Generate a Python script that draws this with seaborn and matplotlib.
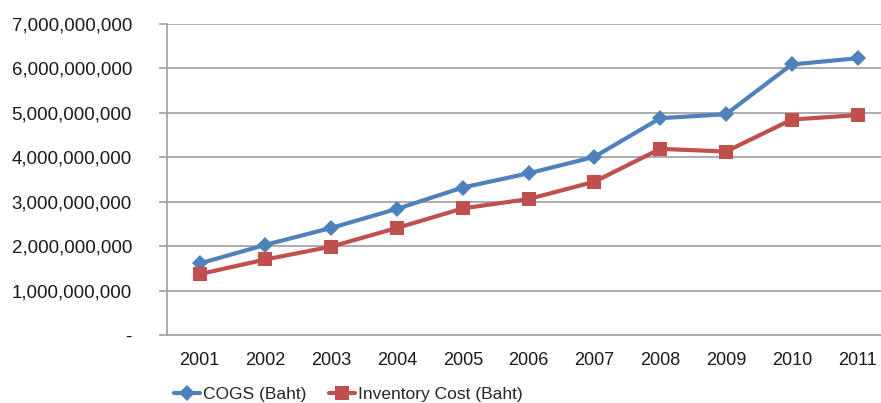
import matplotlib
matplotlib.use("Agg")
import matplotlib.pyplot as plt
from matplotlib.ticker import FuncFormatter, FixedLocator
import seaborn as sns
import pandas as pd

years = ["2001", "2002", "2003", "2004", "2005", "2006",
         "2007", "2008", "2009", "2010", "2011"]
cogs = [1.61e9, 2.03e9, 2.41e9, 2.84e9, 3.32e9, 3.64e9,
        4.01e9, 4.88e9, 4.97e9, 6.09e9, 6.23e9]
inventory = [1.37e9, 1.70e9, 1.99e9, 2.41e9, 2.85e9, 3.06e9,
             3.45e9, 4.19e9, 4.13e9, 4.85e9, 4.95e9]
series_names = ["COGS (Baht)", "Inventory Cost (Baht)"]

df = pd.DataFrame({
    "pos": list(range(len(years))) * 2,
    "value": cogs + inventory,
    "series": [series_names[0]] * len(years) + [series_names[1]] * len(years),
})

sns.set_style("white")
plt.rcParams["font.family"] = ["Liberation Sans", "DejaVu Sans"]

fig = plt.figure(figsize=(8.81, 4.03), dpi=100)
ax = fig.add_axes([0.1892, 0.1687, 0.8216, 0.7717])

palette = {series_names[0]: "#4F81BD", series_names[1]: "#C0504D"}
markers = {series_names[0]: "D", series_names[1]: "s"}
sns.lineplot(data=df, x="pos", y="value", hue="series", style="series",
             palette=palette, markers=markers, dashes=False, linewidth=3,
             markersize=10, markeredgewidth=0, ax=ax)

# the diamonds are drawn a little smaller than the squares
for line in ax.lines:
    if line.get_marker() == "D":
        line.set_markersize(8.5)

ax.set_xlim(-0.5, len(years) - 0.5)
ax.set_ylim(0, 7e9)
ax.yaxis.set_major_locator(FixedLocator([i * 1e9 for i in range(8)]))
ax.yaxis.set_major_formatter(FuncFormatter(lambda v, p: "-" if v == 0 else f"{int(v):,}"))
ax.grid(axis="y", color="#A6A6A6", linewidth=1.3)
ax.set_axisbelow(True)

ax.set_xticks(range(len(years)))
ax.set_xticklabels(years)
ax.set_xticks([i - 0.5 for i in range(len(years) + 1)], minor=True)
ax.tick_params(axis="x", which="major", length=0, pad=12, labelsize=13, labelcolor="#1a1a1a")
ax.tick_params(axis="x", which="minor", length=6, width=1.3, color="#A6A6A6", direction="out")
ax.tick_params(axis="y", length=6, width=1.3, color="#A6A6A6", direction="out", pad=19,
               labelsize=13.5, labelcolor="#1a1a1a", left=True)

for side in ["top", "right"]:
    ax.spines[side].set_visible(False)
for side in ["left", "bottom"]:
    ax.spines[side].set_color("#A6A6A6")
    ax.spines[side].set_linewidth(1.3)

ax.set_xlabel("")
ax.set_ylabel("")

handles, labels = ax.get_legend_handles_labels()
ax.legend_.remove()
leg = fig.legend(handles, labels, loc="center left", bbox_to_anchor=(0.198, 0.022), ncol=2,
                 frameon=False, handlelength=1.5, handletextpad=0.15, columnspacing=1.3,
                 borderpad=0.0, borderaxespad=0.0, prop={"size": 12.5})

fig.savefig("out.png", dpi=100)
